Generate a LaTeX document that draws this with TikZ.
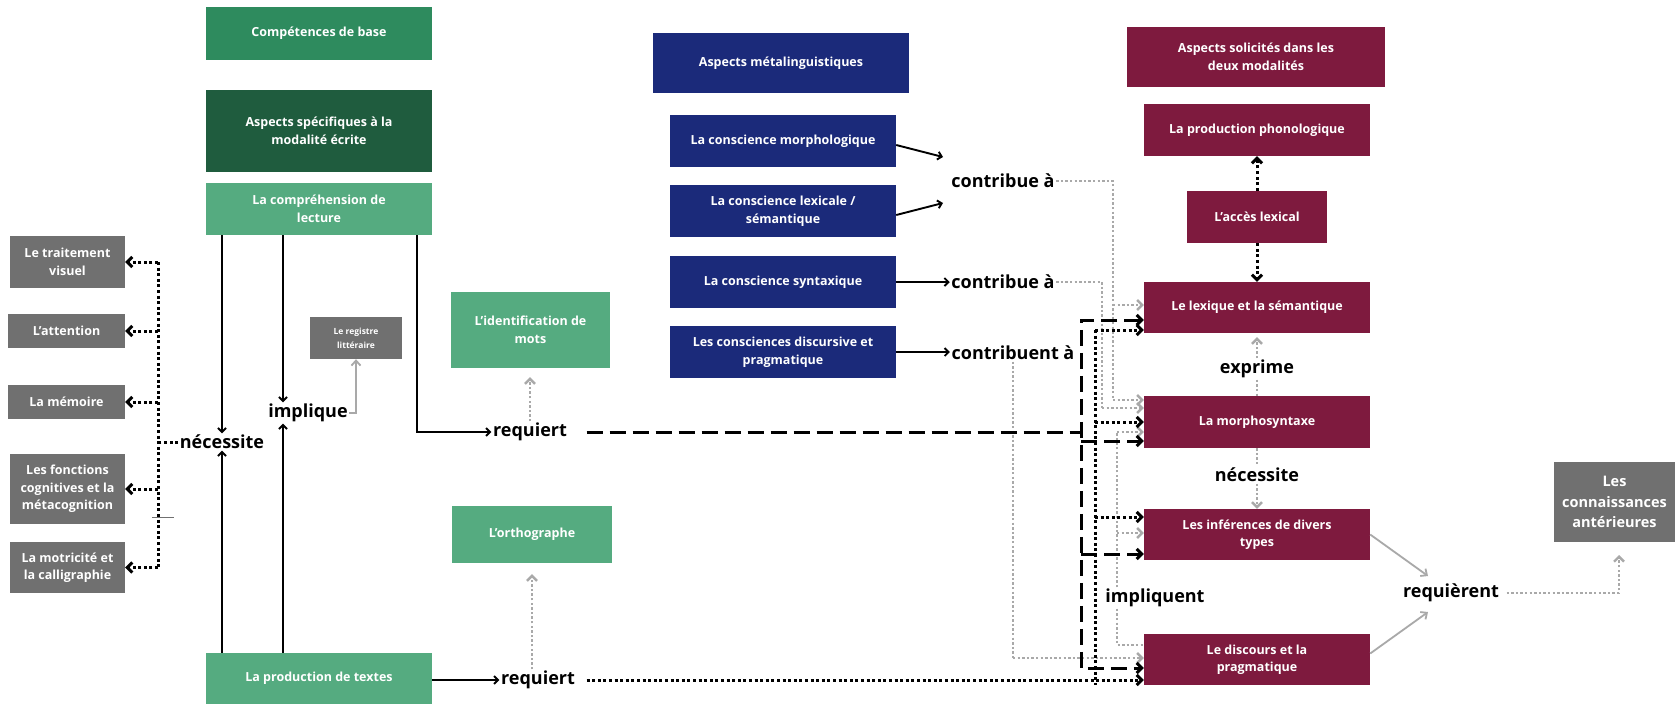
\documentclass[tikz,border=0pt]{standalone}
\usepackage{fontspec}
\setmainfont{Open Sans}
\usetikzlibrary{arrows.meta,calc}
\definecolor{gmid}{HTML}{2E8B5E}
\definecolor{gdark}{HTML}{1F5C3E}
\definecolor{glight}{HTML}{55AB80}
\definecolor{navy}{HTML}{1B2A7A}
\definecolor{maroon}{HTML}{7E1A3E}
\definecolor{boxgrey}{HTML}{707070}
\definecolor{lgrey}{HTML}{A9A9A9}
\begin{document}
\begin{tikzpicture}[x=1pt,y=-1pt,
  box/.style={rectangle, inner sep=2pt, text=white, align=center,
    font=\fontsize{12.5}{17.5}\selectfont\bfseries},
  lbl/.style={inner sep=1.5pt, text=black, font=\fontsize{18}{20}\selectfont\bfseries},
  arr/.style={line width=1.9pt, black, -{Straight Barb[length=4pt,width=8pt]}},
  garr/.style={line width=1.8pt, lgrey, -{Straight Barb[length=5pt,width=9pt]}},
  bdot/.style={line width=3pt, black, dash pattern=on 3pt off 2.6pt},
  bdash/.style={line width=3pt, black, dash pattern=on 16pt off 7pt},
  gdot/.style={line width=2.4pt, lgrey, dash pattern=on 2.4pt off 2.2pt},
  tip/.style={-{Straight Barb[length=5pt,width=10pt]}},
  tips/.style={{Straight Barb[length=5pt,width=10pt]}-{Straight Barb[length=5pt,width=10pt]}},
]
\fill[white] (0,0) rectangle (1675,705);
\useasboundingbox (0,0) rectangle (1675,705);

% green boxes
\node[box, fill=gmid, minimum width=226pt, minimum height=53pt] (cb) at (319,33.5) {Compétences de base};
\node[box, fill=gdark, minimum width=226pt, minimum height=82pt] (asp) at (319,131) {Aspects spécifiques à la\\modalité écrite};
\node[box, fill=glight, minimum width=226pt, minimum height=52pt] (comp) at (319,209) {La compréhension de\\lecture};
\node[box, fill=glight, minimum width=226pt, minimum height=51pt] (prod) at (319,678.5) {La production de textes};
\node[box, fill=glight, minimum width=159pt, minimum height=76pt] (ident) at (530.5,330) {L’identification de\\mots};
\node[box, fill=glight, minimum width=160pt, minimum height=57pt] (ortho) at (532,534.5) {L’orthographe};

% grey boxes left
\node[box, fill=boxgrey, minimum width=115pt, minimum height=52pt] (tv) at (67.5,262) {Le traitement\\visuel};
\node[box, fill=boxgrey, minimum width=117pt, minimum height=34pt] (att) at (66.5,331) {L’attention};
\node[box, fill=boxgrey, minimum width=117pt, minimum height=34pt] (mem) at (66.5,402) {La mémoire};
\node[box, fill=boxgrey, minimum width=115pt, minimum height=70pt] (fc) at (67.5,489) {Les fonctions\\cognitives et la\\métacognition};
\node[box, fill=boxgrey, minimum width=115pt, minimum height=51pt] (mot) at (67.5,567.5) {La motricité et\\la calligraphie};
\node[box, fill=boxgrey, minimum width=92pt, minimum height=42pt, font=\fontsize{8.5}{14}\selectfont\bfseries] (reg) at (356,338) {Le registre\\littéraire};

% blue boxes
\node[box, fill=navy, minimum width=256pt, minimum height=60pt] (meta) at (781,63) {Aspects métalinguistiques};
\node[box, fill=navy, minimum width=226pt, minimum height=52pt] (cmorph) at (783,141) {La conscience morphologique};
\node[box, fill=navy, minimum width=226pt, minimum height=52pt] (clex) at (783,211) {La conscience lexicale /\\sémantique};
\node[box, fill=navy, minimum width=226pt, minimum height=52pt] (csyn) at (783,282) {La conscience syntaxique};
\node[box, fill=navy, minimum width=226pt, minimum height=52pt] (cdisc) at (783,352) {Les consciences discursive et\\pragmatique};

% maroon boxes
\node[box, fill=maroon, minimum width=258pt, minimum height=60pt] (asol) at (1256,57) {Aspects solicités dans les\\deux modalités};
\node[box, fill=maroon, minimum width=226pt, minimum height=52pt] (pphon) at (1257,130) {La production phonologique};
\node[box, fill=maroon, minimum width=140pt, minimum height=52pt] (acces) at (1257,217) {L’accès lexical};
\node[box, fill=maroon, minimum width=226pt, minimum height=51pt] (lex) at (1257,307.5) {Le lexique et la sémantique};
\node[box, fill=maroon, minimum width=226pt, minimum height=52pt] (morph) at (1257,422) {La morphosyntaxe};
\node[box, fill=maroon, minimum width=226pt, minimum height=51pt] (inf) at (1257,534.5) {Les inférences de divers\\types};
\node[box, fill=maroon, minimum width=226pt, minimum height=51pt] (disc) at (1257,659.5) {Le discours et la\\pragmatique};

\node[box, fill=boxgrey, minimum width=121pt, minimum height=80pt, font=\fontsize{14.5}{20.5}\selectfont\bfseries] (conn) at (1614.5,502) {Les\\connaissances\\antérieures};

% labels
\node[lbl] (nec1) at (222,442) {nécessite};
\node[lbl] (impl) at (308,413) {implique};
\node[lbl] (req1) at (530,432) {requiert};
\node[lbl] (req2) at (538,680) {requiert};
\node[lbl] (contr1) at (1003,181) {contribue à};
\node[lbl] (contr2) at (1003,282) {contribue à};
\node[lbl] (contr3) at (1013,353) {contribuent à};
\node[lbl] (expr) at (1257,369) {exprime};
\node[lbl] (nec2) at (1257,475) {nécessite};
\node[lbl] (impq) at (1155,598) {impliquent};
\node[lbl] (reqnt) at (1451,593) {requièrent};

% ---- left connectors
\coordinate (xi) at (283,0);
\coordinate (xr) at (417,0);
\draw[arr] (comp.south -| nec1.north) -- (nec1.north);
\draw[arr] (comp.south -| xi) -- (impl.north -| xi);
\draw[arr] (comp.south -| xr) |- (req1.west);
\draw[arr] (prod.north -| nec1.south) -- (nec1.south);
\draw[arr] (prod.north -| xi) -- (impl.south -| xi);
\draw[arr] (prod.east |- req2.west) -- (req2.west);
\draw[garr] (impl.east) -| (reg.south);
\draw[gdot, tip, shorten >=9pt] (req1.north) -- (req1.north |- ident.south);
\draw[gdot, tip, shorten >=11pt] (req2.north -| ortho.south) -- (ortho.south);

\coordinate (tk) at (158,442);
\draw[bdot] (nec1.west) -- (tk);
\draw[bdot] (tk |- tv.east) -- (tk |- mot.east);
\draw[bdot, tip] (tk |- tv.east) -- (tv.east);
\draw[bdot, tip] (tk |- att.east) -- (att.east);
\draw[bdot, tip] (tk |- mem.east) -- (mem.east);
\draw[bdot, tip] (tk |- fc.east) -- (fc.east);
\draw[bdot, tip] (tk |- mot.east) -- (mot.east);
\coordinate (t1) at (152,517);
\coordinate (t2) at (174,517);
\draw[line width=0.6pt, boxgrey] (t1) -- (t2);

% ---- middle connectors
\coordinate (m1) at (943,157);
\coordinate (m2) at (943,203);
\draw[arr] ($(cmorph.east)+(0,4)$) -- (m1);
\draw[arr] ($(clex.east)+(0,4)$) -- (m2);
\draw[arr] (csyn.east) -- (csyn.east -| contr2.west);
\draw[arr] (cdisc.east) -- (cdisc.east -| contr3.west);

% grey dotted from contribue
\coordinate (a1) at (1113,305);
\coordinate (a2) at (1113,400);
\draw[gdot] (contr1.east) -| (a2);
\draw[gdot, tip] (a1) -- (a1 -| lex.west);
\draw[gdot, tip] (a2) -- (a2 -| morph.west);
\coordinate (b1) at (1102,408);
\draw[gdot] (contr2.east) -| (b1);
\draw[gdot, tip] (b1) -- (b1 -| morph.west);
\coordinate (c1) at (1013,658);
\draw[gdot] (contr3.south) -- (c1);
\draw[gdot, tip] (c1) -- (c1 -| disc.west);
% impliquent
\coordinate (i1) at (1117,432);
\coordinate (i2) at (1117,533);
\coordinate (i3) at (1117,645);
\draw[gdot] (impq.north -| i1) -- (i1);
\draw[gdot, tip] (i1) -- (i1 -| morph.west);
\draw[gdot, tip] (i2) -- (i2 -| inf.west);
\draw[gdot] (impq.south -| i3) -- (i3) -- (i3 -| disc.west);

% black dashed from requiert (reading)
\coordinate (d0) at (1081,432);
\coordinate (d1) at (1081,320);
\coordinate (d2) at (1081,441);
\coordinate (d3) at (1081,554);
\coordinate (d4) at (1081,668);
\draw[bdash] ($(req1.east)+(18,0)$) -- (d0);
\draw[bdash, tips] (d1 -| lex.west) -- (d1) -- (d4) -- (d4 -| disc.west);
\draw[bdash, tip] (d2) -- (d2 -| morph.west);
\draw[bdash, tip] (d3) -- (d3 -| inf.west);

% black dotted from requiert (writing)
\coordinate (e1) at (1095,330);
\coordinate (e2) at (1095,422);
\coordinate (e3) at (1095,517);
\coordinate (e4) at (1095,685);
\draw[bdot] (e1) -- (e4);
\draw[bdot, tip] (e1) -- (e1 -| lex.west);
\draw[bdot, tip] (e2) -- (e2 -| morph.west);
\draw[bdot, tip] (e3) -- (e3 -| inf.west);
\draw[bdot, tip] ($(req2.east)+(10,0)$) -- (req2.east -| disc.west);

% ---- right column
\draw[bdot, tip] (acces.north) -- (pphon.south);
\draw[bdot, tip] (acces.south) -- (lex.north);
\draw[gdot, tip, shorten >=4pt] (expr.north) -- (lex.south);
\draw[gdot] (expr.south) -- (morph.north);
\draw[gdot] (morph.south) -- (nec2.north);
\draw[gdot, tip] (nec2.south) -- (inf.north);
\coordinate (r1) at (1428,576);
\coordinate (r2) at (1428,612);
\draw[garr] (inf.east) -- (r1);
\draw[garr] ($(disc.east)+(0,-6)$) -- (r2);
\coordinate (k2) at (1619,555);
\draw[gdot, tip] ($(reqnt.east)+(6,0)$) -| (k2);
\end{tikzpicture}
\end{document}
